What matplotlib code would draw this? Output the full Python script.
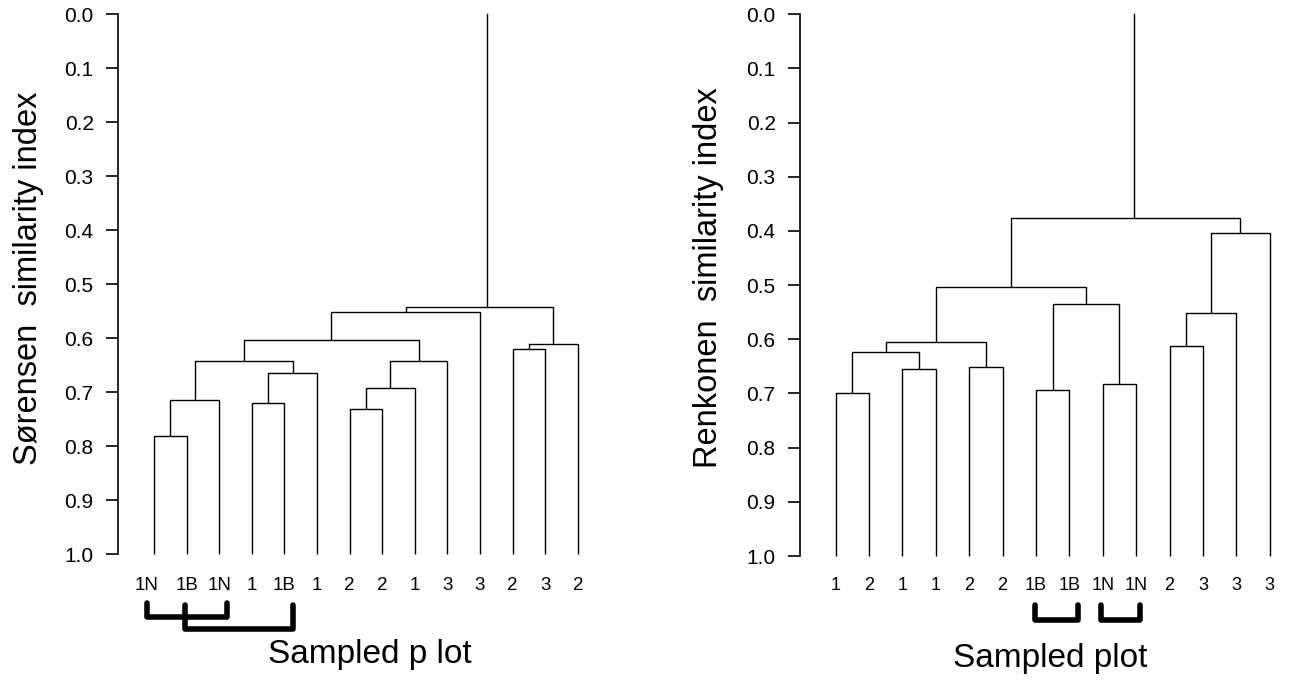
import matplotlib
matplotlib.use("Agg")
import matplotlib.pyplot as plt

plt.rcParams['font.family'] = ['Liberation Sans', 'DejaVu Sans']

# ---------------- data ----------------
sor_labels = ["1N", "1B", "1N", "1", "1B", "1", "2", "2", "1", "3", "3", "2", "3", "2"]
# merges: (child_a, child_b, height); leaves 0..13, new clusters numbered from 14
sor_merges = [
    (0, 1, 0.781),
    (14, 2, 0.714),
    (3, 4, 0.721),
    (16, 5, 0.664),
    (15, 17, 0.642),
    (6, 7, 0.731),
    (19, 8, 0.692),
    (20, 9, 0.642),
    (18, 21, 0.604),
    (22, 10, 0.551),
    (11, 12, 0.621),
    (24, 13, 0.611),
    (23, 25, 0.543),
]
sor_brackets = [(0, 2), (1, 4)]

ren_labels = ["1", "2", "1", "1", "2", "2", "1B", "1B", "1N", "1N", "2", "3", "3", "3"]
ren_merges = [
    (0, 1, 0.700),
    (2, 3, 0.654),
    (14, 15, 0.623),
    (4, 5, 0.651),
    (16, 17, 0.605),
    (6, 7, 0.694),
    (8, 9, 0.6825),
    (19, 20, 0.534),
    (18, 21, 0.503),
    (10, 11, 0.612),
    (23, 12, 0.552),
    (24, 13, 0.403),
    (22, 25, 0.3755),
]
ren_brackets = [(6, 7), (8, 9)]

yticks = [i / 10 for i in range(11)]

# ---------------- figure ----------------
W, H = 1290, 681
fig = plt.figure(figsize=(W / 100, H / 100), dpi=100)


def px_axes(left, right, top, bottom):
    return fig.add_axes([left / W, 1 - bottom / H, (right - left) / W, (bottom - top) / H])


def draw_dendro(ax, labels, merges, root_shift=0.0, lw=1.0):
    n = len(labels)
    pos = {i: (float(i), 1.0) for i in range(n)}
    cid = n
    for a, b, h in merges:
        xa, ya = pos[a]
        xb, yb = pos[b]
        ax.plot([xa, xa, xb, xb], [ya, h, h, yb], color='black', lw=lw,
                solid_capstyle='butt', solid_joinstyle='miter', clip_on=False)
        pos[cid] = ((xa + xb) / 2, h)
        cid += 1
    xr, hr = pos[cid - 1]
    ax.plot([xr + root_shift] * 2, [hr, 0.0], color='black', lw=lw, clip_on=False)


def style_axis(ax, xlo, xhi):
    ax.set_xlim(xlo, xhi)
    ax.set_ylim(1.0, 0.0)
    for s in ['top', 'right', 'bottom']:
        ax.spines[s].set_visible(False)
    ax.spines['left'].set_linewidth(1.2)
    ax.set_xticks([])
    ax.set_yticks(yticks)
    ax.set_yticklabels([f"{t:.1f}" for t in yticks])
    ax.tick_params(axis='y', direction='out', length=8.5, width=1.2, pad=9,
                   labelsize=15)
    ax.patch.set_alpha(0)


def draw_labels(ax, labels, y, size, offsets=None):
    for i, lab in enumerate(labels):
        dx = offsets.get(i, 0.0) if offsets else 0.0
        ax.text(i + dx, y, lab, ha='center', va='center', fontsize=size, clip_on=False)


def draw_bracket(ax, i, j, ytop, ybot, dl, dr, lw=4.0):
    xa, xb = i + dl, j + dr
    ax.plot([xa, xa, xb, xb], [ytop, ybot, ybot, ytop], color='black', lw=lw,
            solid_capstyle='round', solid_joinstyle='round', clip_on=False)


# ---- left panel ----
axL = px_axes(118, 600, 14, 554)
step_L = 32.6
style_axis(axL, -36 / step_L, (600 - 154) / step_L)
draw_dendro(axL, sor_labels, sor_merges, root_shift=0.22)
draw_labels(axL, sor_labels, 1.058, 13.5, offsets={0: -0.22})
draw_bracket(axL, sor_brackets[0][0], sor_brackets[0][1], 1.091, 1.116, -0.22, 0.24)
draw_bracket(axL, sor_brackets[1][0], sor_brackets[1][1], 1.094, 1.138, -0.05, 0.26)
fig.text(37 / W, 1 - 278 / H, "Sørensen  similarity index", rotation=90,
         rotation_mode='anchor', ha='center', va='baseline', fontsize=23.5)
fig.text(370 / W, 1 - 663 / H, "Sampled p lot", ha='center', va='baseline', fontsize=24)

# ---- right panel ----
axR = px_axes(800, 1285, 14.3, 556)
step_R = 33.38
style_axis(axR, -(835.7 - 800) / step_R, (1285 - 835.7) / step_R)
draw_dendro(axR, ren_labels, ren_merges, root_shift=0.24)
draw_labels(axR, ren_labels, 1.054, 13)
draw_bracket(axR, ren_brackets[0][0], ren_brackets[0][1], 1.090, 1.119, -0.03, 0.26)
draw_bracket(axR, ren_brackets[1][0], ren_brackets[1][1], 1.090, 1.119, -0.05, 0.12)
fig.text(717 / W, 1 - 278 / H, "Renkonen  similarity index", rotation=90,
         rotation_mode='anchor', ha='center', va='baseline', fontsize=23.5)
fig.text(1050 / W, 1 - 667 / H, "Sampled plot", ha='center', va='baseline', fontsize=24)

fig.savefig("out.png", dpi=100, facecolor='white')
